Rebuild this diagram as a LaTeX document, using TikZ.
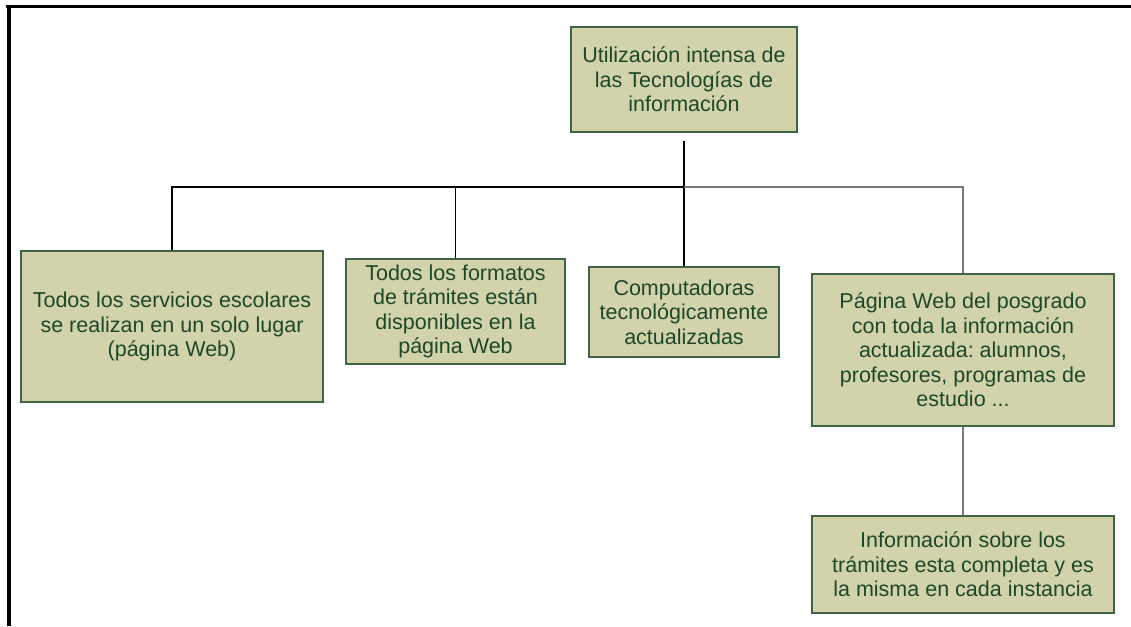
\documentclass[tikz,border=0pt]{standalone}
\usepackage{fontspec}
\setmainfont{Liberation Sans}
\definecolor{boxfill}{RGB}{211,211,171}
\definecolor{boxline}{RGB}{62,100,70}
\definecolor{boxtext}{RGB}{28,72,42}
\definecolor{linegray}{RGB}{120,120,120}
\tikzset{
  card/.style={draw=boxline, line width=1.4pt, fill=boxfill, text=boxtext,
    align=center, inner sep=2pt, font=\fontsize{21.5}{24.5}\selectfont\frenchspacing},
  link/.style={line width=1.3pt, draw=black},
  linkgray/.style={line width=1.3pt, draw=linegray},
  frame/.style={line width=3.5pt, draw=black}
}
\begin{document}
\begin{tikzpicture}[x=1pt,y=-1pt]
\useasboundingbox (0,0) rectangle (1131,626);
% frame
\coordinate (fbl) at (8.8,626);
\coordinate (ftr) at (1131,6.5);
\draw[frame, line width=4.3pt] (fbl) -- (8.8,5);
\draw[frame, line width=3pt] (6,6.5) -- (ftr);
% nodes
\node[card, minimum width=226, minimum height=105] (root) at (684,79.5)
  {Utilización intensa de\\las Tecnologías de\\información};
\node[card, minimum width=302, minimum height=151] (b1) at (172,326.5)
  {Todos los servicios escolares\\se realizan en un solo lugar\\(página Web)};
\node[card, minimum width=219, minimum height=105] (b2) at (455.5,311.5)
  {Todos los formatos\\de trámites están\\disponibles en la\\página Web};
\node[card, minimum width=190, minimum height=90] (b3) at (684,312)
  {Computadoras\\tecnológicamente\\actualizadas};
\node[card, minimum width=302, minimum height=152] (b4) at (963,350)
  {Página Web del posgrado\\con toda la información\\actualizada: alumnos,\\profesores, programas de\\estudio ...};
\node[card, minimum width=302, minimum height=97] (b5) at (963,564.5)
  {Información sobre los\\trámites esta completa y es\\la misma en cada instancia};
% connectors
\coordinate (bus) at (684,187);
\draw[link, shorten <=8pt] (root.south) -- (bus);
\draw[link] (b1.north) |- (bus);
\draw[link] (b2.north) |- (bus);
\draw[link] (bus) -- (b3.north);
\draw[linkgray] (bus) -| (b4.north);
\draw[linkgray] (b4.south) -- (b5.north);
\end{tikzpicture}
\end{document}
